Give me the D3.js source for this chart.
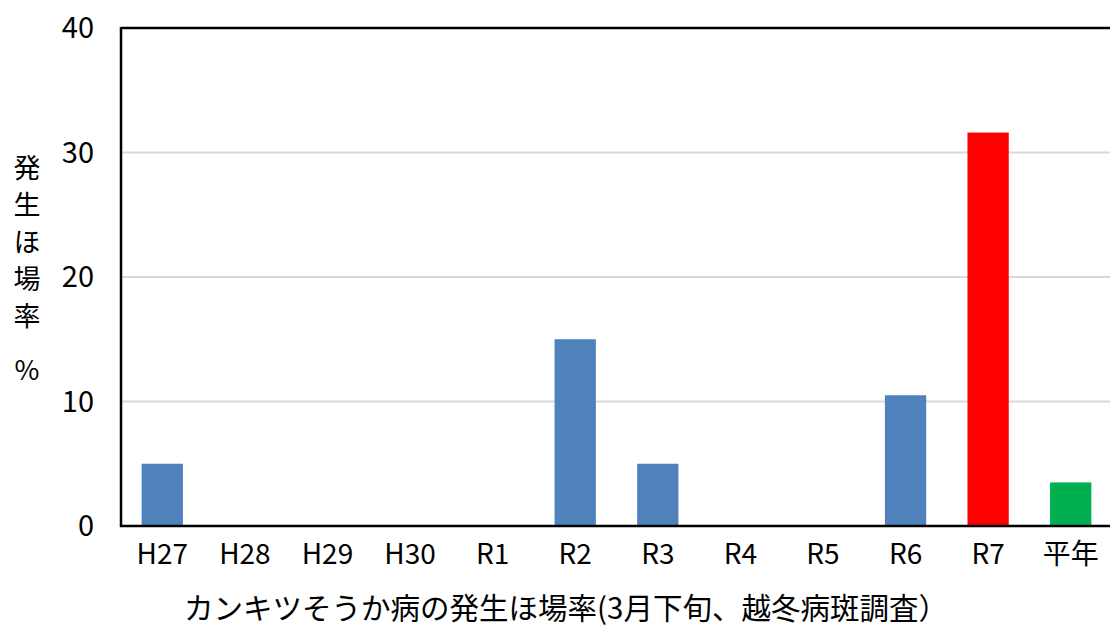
<!DOCTYPE html>
<html><head><meta charset="utf-8">
<script src="https://cdn.jsdelivr.net/npm/d3@7"></script>
<style>
body{margin:0;background:#fff;}
text{font-family:"Noto Sans CJK JP",sans-serif;fill:#000;}
</style></head>
<body><svg id="c" width="1110" height="630"></svg>
<script>
const categories = ["H27","H28","H29","H30","R1","R2","R3","R4","R5","R6","R7","平年"];
const values = [5.0,0,0,0,0,15.0,5.0,0,0,10.5,31.6,3.5];
const barColors = ["#4f81bd","#4f81bd","#4f81bd","#4f81bd","#4f81bd","#4f81bd","#4f81bd","#4f81bd","#4f81bd","#4f81bd","#ff0000","#00b050"];
const yTicks = [0,10,20,30,40];
const yLabel = "発生ほ場率\u2005%";
const title = "カンキツそうか病の発生ほ場率(3月下旬、越冬病斑調査）";

const svg = d3.select("#c");
const L = 121, R = 1112, T = 28, B = 526;
const x = d3.scaleBand().domain(categories).range([L,R]).paddingInner(0.5).paddingOuter(0.25);
const y = d3.scaleLinear().domain([0,40]).range([B,T]);

// gridlines
svg.append("g").selectAll("line").data(yTicks.filter(d=>d>0 && d<40)).join("line")
  .attr("x1",L).attr("x2",R).attr("y1",d=>y(d)).attr("y2",d=>y(d))
  .attr("stroke","#d9d9d9").attr("stroke-width",2);

// bars
svg.append("g").selectAll("rect").data(categories).join("rect")
  .attr("x",d=>x(d)).attr("width",x.bandwidth())
  .attr("y",(d,i)=>y(values[i])).attr("height",(d,i)=>B-y(values[i]))
  .attr("fill",(d,i)=>barColors[i]);

// frame: top, left, bottom
svg.append("line").attr("x1",L).attr("x2",R).attr("y1",y(40)).attr("y2",y(40)).attr("stroke","#000").attr("stroke-width",2.5);
svg.append("line").attr("x1",L).attr("x2",L).attr("y1",T-1).attr("y2",B+1).attr("stroke","#000").attr("stroke-width",2.5);
svg.append("line").attr("x1",L-1).attr("x2",R).attr("y1",B).attr("y2",B).attr("stroke","#000").attr("stroke-width",2.5);

// y tick labels
const yAxis = d3.axisLeft(y).tickValues(yTicks).tickSize(0).tickPadding(27);
const gy = svg.append("g").attr("transform",`translate(${L},0)`).call(yAxis);
gy.select(".domain").remove();
gy.selectAll("text").attr("font-size",29).attr("font-family","Noto Sans CJK JP").attr("fill","#000").attr("dy","0.34em");

// x tick labels
const xAxis = d3.axisBottom(x).tickSize(0).tickPadding(18);
const gx = svg.append("g").attr("transform",`translate(0,${B})`).call(xAxis);
gx.select(".domain").remove();
gx.selectAll("text").attr("font-size",28).attr("font-family","Noto Sans CJK JP").attr("fill","#000");

// y label (vertical)
svg.append("text").attr("x",27).attr("y",154)
  .style("writing-mode","vertical-rl").style("text-orientation","upright")
  .style("letter-spacing","10px")
  .attr("font-size",27).attr("font-family","Noto Sans CJK JP").text(yLabel);

// title
svg.append("text").attr("x",566).attr("y",606).attr("text-anchor","middle").attr("dominant-baseline","central")
  .attr("font-size",29.5).attr("font-family","Noto Sans CJK JP").text(title);
</script></body></html>
